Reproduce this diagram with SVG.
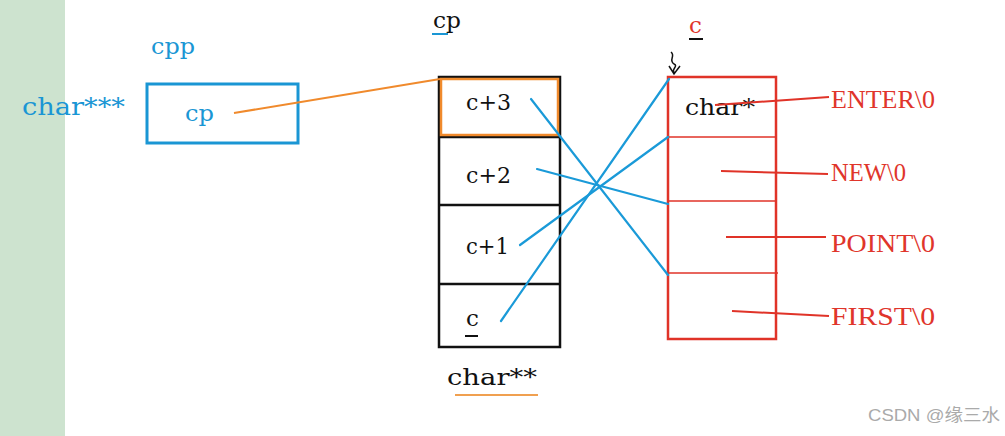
<svg xmlns="http://www.w3.org/2000/svg" width="1005" height="436" viewBox="0 0 1005 436">
<style>
.blue{fill:#1a96d4;font-family:"DejaVu Serif",serif;}
.blk{fill:#111;font-family:"DejaVu Serif",serif;font-size:23px;}
.red{fill:#e0352b;font-family:"Liberation Serif",serif;font-size:26px;}
.bl{stroke:#1a9ad8;stroke-width:2.2;fill:none;stroke-linecap:round;}
.rl{stroke:#e03328;stroke-width:2;fill:none;}
</style>
<rect x="0" y="0" width="1005" height="436" fill="#ffffff"/>
<rect x="0" y="0" width="65" height="436" fill="#cde3cf"/>
<g id="cpp">
<text class="blue" x="151" y="54" font-size="22" textLength="44" lengthAdjust="spacingAndGlyphs">cpp</text>
<text class="blue" x="22" y="115" font-size="24" textLength="103" lengthAdjust="spacingAndGlyphs">char***</text>
<rect x="147" y="84" width="151" height="59" fill="none" stroke="#1a96d4" stroke-width="3"/>
<text class="blue" x="185" y="121" font-size="23" textLength="29" lengthAdjust="spacingAndGlyphs">cp</text>
</g>
<g id="cp">
<text class="blk" x="433" y="28" textLength="28" lengthAdjust="spacingAndGlyphs">cp</text>
<line x1="432" y1="34" x2="448" y2="34" stroke="#1a96d4" stroke-width="2"/>
<rect x="439" y="77" width="121" height="270" fill="none" stroke="#111" stroke-width="2.5"/>
<line x1="439" y1="137" x2="560" y2="137" stroke="#111" stroke-width="2.5"/>
<line x1="439" y1="205" x2="560" y2="205" stroke="#111" stroke-width="2.5"/>
<line x1="439" y1="284" x2="560" y2="284" stroke="#111" stroke-width="2.5"/>
<rect x="441" y="79" width="117" height="56" fill="none" stroke="#f08a2c" stroke-width="2.5"/>
<text class="blk" x="466" y="110" textLength="45" lengthAdjust="spacingAndGlyphs">c+3</text>
<text class="blk" x="466" y="183" textLength="45" lengthAdjust="spacingAndGlyphs">c+2</text>
<text class="blk" x="466" y="254" textLength="43" lengthAdjust="spacingAndGlyphs">c+1</text>
<text class="blk" x="466" y="326">c</text>
<line x1="465" y1="336" x2="478" y2="336" stroke="#111" stroke-width="2"/>
<text class="blk" x="447" y="385" textLength="90" lengthAdjust="spacingAndGlyphs">char**</text>
<line x1="455" y1="395" x2="538" y2="395" stroke="#f0a050" stroke-width="2"/>
</g>
<g id="c">
<text x="689" y="33" font-family="DejaVu Serif,serif" font-size="23" fill="#e0352b">c</text>
<line x1="689" y1="39" x2="703" y2="39" stroke="#111" stroke-width="2"/>
<path d="M671 52 C676 56 668 60 674 64 C679 66 670 70 675 73 M669 66 L674 74 L680 66" fill="none" stroke="#111" stroke-width="1.5"/>
<rect x="668" y="77" width="108" height="262" fill="none" stroke="#e03328" stroke-width="2.5"/>
<line x1="668" y1="137" x2="776" y2="137" stroke="#e03328" stroke-width="1.5"/>
<line x1="668" y1="201" x2="776" y2="201" stroke="#e03328" stroke-width="1.5"/>
<line x1="668" y1="273" x2="778" y2="273" stroke="#e03328" stroke-width="1.5"/>
<text class="blk" x="685" y="115" textLength="70" lengthAdjust="spacingAndGlyphs">char*</text>
</g>
<g id="strings">
<text class="red" x="831" y="108" textLength="104" lengthAdjust="spacingAndGlyphs">ENTER\0</text>
<text class="red" x="831" y="181" textLength="75" lengthAdjust="spacingAndGlyphs">NEW\0</text>
<text class="red" x="831" y="252" textLength="104" lengthAdjust="spacingAndGlyphs">POINT\0</text>
<text class="red" x="831" y="325" textLength="104" lengthAdjust="spacingAndGlyphs">FIRST\0</text>
</g>
<g id="connectors">
<line x1="234" y1="113" x2="440" y2="79" stroke="#f08a2c" stroke-width="2"/>
<line class="bl" x1="531" y1="99" x2="668" y2="275"/>
<line class="bl" x1="537" y1="169" x2="668" y2="204"/>
<line class="bl" x1="520" y1="245" x2="668" y2="137"/>
<line class="bl" x1="501" y1="321" x2="669" y2="79"/>
<line class="rl" x1="715" y1="105" x2="829" y2="97"/>
<line class="rl" x1="721" y1="171" x2="828" y2="174"/>
<line class="rl" x1="726" y1="237" x2="826" y2="237"/>
<line class="rl" x1="732" y1="311" x2="829" y2="316"/>
</g>
<text x="868" y="421" font-family="Liberation Sans,Noto Sans CJK SC,sans-serif" font-size="17" fill="#aaaaaa" textLength="132" lengthAdjust="spacingAndGlyphs">CSDN @缘三水</text>
</svg>
